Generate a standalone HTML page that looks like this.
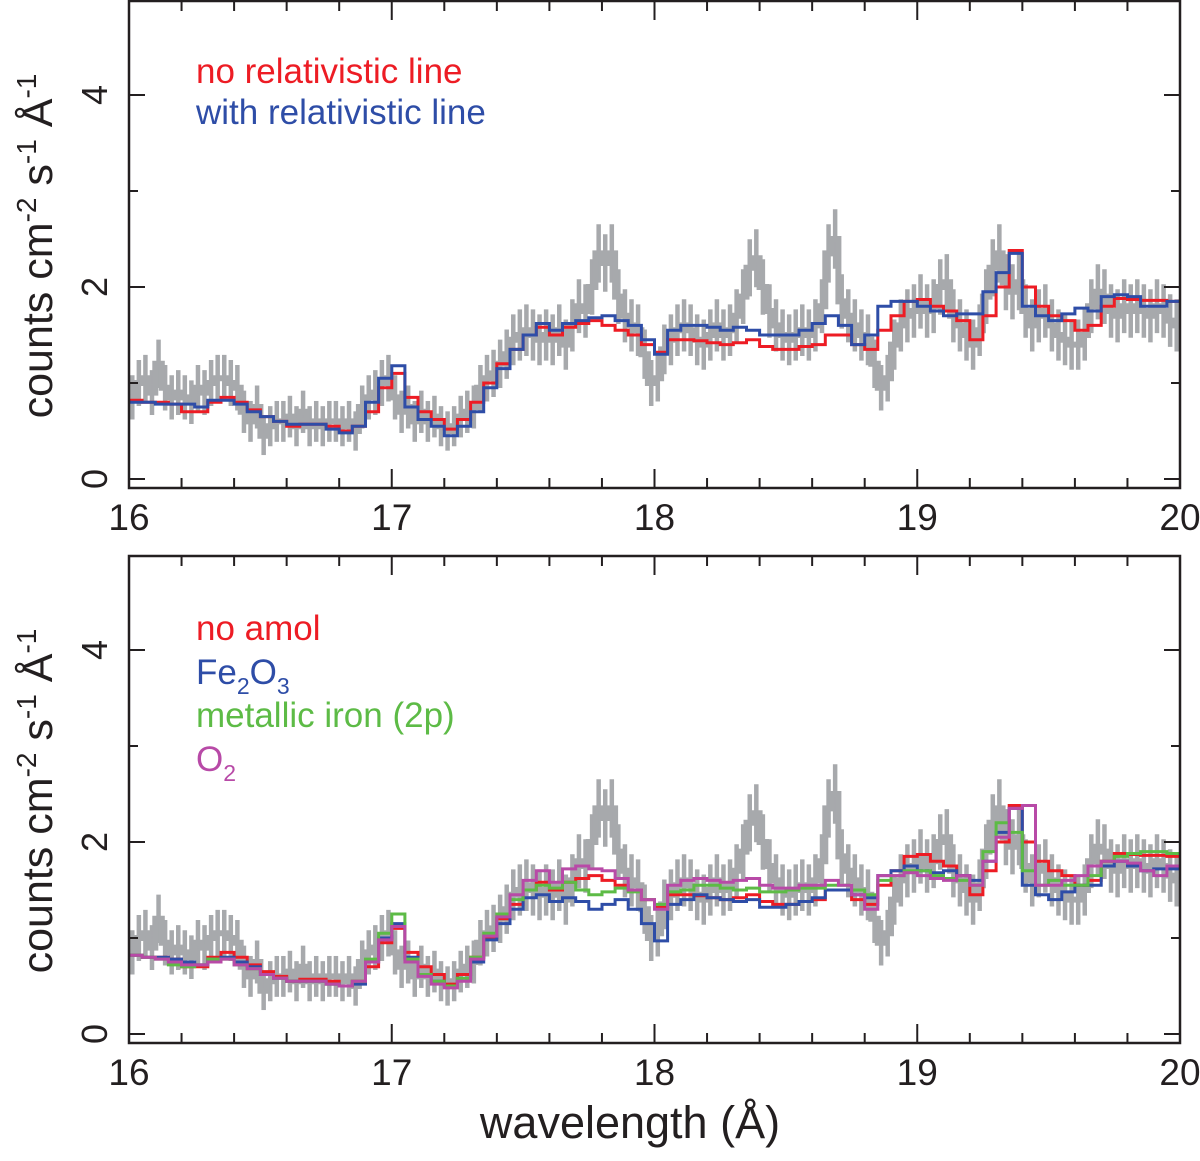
<!DOCTYPE html>
<html><head><meta charset="utf-8"><style>
body{margin:0;background:#fff;}
svg text{font-family:"Liberation Sans",Arial,sans-serif;}
</style></head><body>
<svg id="chart" width="1200" height="1156" viewBox="0 0 1200 1156" xmlns="http://www.w3.org/2000/svg"></svg>
<script>
// data: 0.05 Å model bins from 16.0 to 20.0
const modelStart = 16.0, modelStep = 0.05;
const noRel = [0.82,0.80,0.80,0.78,0.70,0.70,0.80,0.85,0.80,0.72,0.65,0.60,0.55,0.57,0.57,0.55,0.50,0.55,0.70,0.95,1.10,0.85,0.70,0.62,0.52,0.62,0.80,1.00,1.20,1.35,1.50,1.58,1.50,1.58,1.62,1.65,1.60,1.55,1.50,1.40,1.32,1.45,1.45,1.44,1.42,1.40,1.42,1.45,1.38,1.35,1.35,1.38,1.40,1.50,1.50,1.40,1.35,1.55,1.70,1.85,1.87,1.80,1.75,1.65,1.45,1.70,2.00,2.38,2.00,1.80,1.70,1.65,1.55,1.60,1.80,1.88,1.87,1.86,1.86,1.85];
const withRel = [0.80,0.80,0.78,0.78,0.78,0.75,0.82,0.82,0.78,0.70,0.65,0.60,0.57,0.57,0.57,0.52,0.48,0.55,0.80,1.05,1.18,0.75,0.62,0.55,0.45,0.55,0.70,0.95,1.15,1.35,1.50,1.62,1.55,1.62,1.65,1.68,1.70,1.65,1.60,1.45,1.30,1.55,1.60,1.60,1.58,1.55,1.58,1.55,1.50,1.50,1.50,1.55,1.62,1.70,1.60,1.40,1.50,1.80,1.85,1.85,1.80,1.75,1.70,1.72,1.72,1.95,2.15,2.35,1.80,1.70,1.65,1.72,1.78,1.75,1.90,1.92,1.90,1.80,1.80,1.85];
const fe2o3 = [0.82,0.80,0.80,0.78,0.75,0.72,0.78,0.80,0.75,0.70,0.62,0.58,0.55,0.55,0.55,0.52,0.50,0.52,0.75,1.00,1.15,0.80,0.62,0.55,0.50,0.58,0.75,0.98,1.15,1.30,1.42,1.45,1.38,1.42,1.38,1.30,1.35,1.40,1.30,1.15,0.97,1.35,1.40,1.45,1.42,1.40,1.38,1.40,1.32,1.32,1.35,1.38,1.42,1.50,1.50,1.45,1.42,1.65,1.70,1.75,1.70,1.68,1.70,1.65,1.60,1.80,2.10,2.35,1.55,1.45,1.40,1.48,1.55,1.55,1.75,1.80,1.75,1.70,1.72,1.72];
const metalFe = [0.82,0.80,0.78,0.72,0.70,0.72,0.78,0.78,0.72,0.68,0.62,0.58,0.55,0.55,0.55,0.52,0.50,0.55,0.78,1.05,1.25,0.78,0.62,0.55,0.50,0.58,0.80,1.05,1.25,1.40,1.50,1.55,1.52,1.58,1.50,1.45,1.48,1.52,1.48,1.40,1.35,1.48,1.50,1.55,1.55,1.52,1.50,1.52,1.48,1.48,1.50,1.52,1.52,1.55,1.55,1.50,1.45,1.60,1.65,1.70,1.70,1.65,1.62,1.60,1.55,1.90,2.20,2.10,1.70,1.55,1.60,1.55,1.55,1.65,1.80,1.85,1.88,1.90,1.90,1.88];
const o2 = [0.82,0.80,0.78,0.75,0.72,0.72,0.75,0.78,0.72,0.68,0.62,0.58,0.55,0.55,0.55,0.52,0.50,0.55,0.75,0.98,1.12,0.75,0.60,0.52,0.48,0.55,0.78,1.02,1.22,1.45,1.60,1.70,1.58,1.72,1.75,1.72,1.70,1.62,1.50,1.40,1.30,1.55,1.60,1.62,1.60,1.58,1.60,1.62,1.55,1.52,1.52,1.55,1.55,1.60,1.55,1.45,1.30,1.65,1.65,1.68,1.65,1.62,1.60,1.65,1.55,1.80,2.05,2.35,2.38,1.55,1.55,1.60,1.65,1.75,1.80,1.80,1.78,1.70,1.65,1.75];
// observed data: 0.025 Å bins
const dataStart = 16.0, dataStep = 0.025;
const observed = [0.85,1.0,1.05,0.9,1.2,0.95,0.85,0.9, 0.85,0.8,0.95,0.9,1.0,1.05,1.05,1.0, 0.95,0.7,0.6,0.75,0.45,0.55,0.6,0.6, 0.65,0.55,0.7,0.55,0.6,0.55,0.6,0.6, 0.55,0.6,0.5,0.75,0.85,0.9,1.0,1.05, 0.85,0.7,0.75,0.6,0.7,0.6,0.65,0.55, 0.5,0.55,0.65,0.7,0.75,0.95,1.05,1.1, 1.2,1.3,1.45,1.5,1.55,1.5,1.45,1.5, 1.45,1.55,1.4,1.6,1.8,1.75,2.0,2.35, 2.25,2.35,1.9,1.7,1.6,1.55,1.3,1.0, 1.05,1.35,1.45,1.55,1.6,1.55,1.45,1.4, 1.5,1.6,1.5,1.55,1.7,1.9,2.2,2.3, 2.0,1.75,1.6,1.5,1.45,1.5,1.55,1.5, 1.6,1.8,2.35,2.5,1.85,1.7,1.6,1.5, 1.45,1.2,0.95,1.05,1.4,1.6,1.7,1.75, 1.85,1.75,1.8,2.0,2.05,1.7,1.6,1.5, 1.4,1.55,1.9,2.2,2.35,2.05,1.95,2.05, 1.75,1.6,1.7,1.75,1.6,1.5,1.45,1.4, 1.4,1.5,1.8,1.95,1.9,1.75,1.7,1.8, 1.75,1.8,1.75,1.7,1.8,1.75,1.65,1.6];
const xTickLabels = ["16","17","18","19","20"];
const yTickLabels = ["0","2","4"];

const NS = "http://www.w3.org/2000/svg";
const svg = document.getElementById("chart");
const X0 = 129, X1 = 1180;
function xs(v){ return X0 + (v-16)/4*(X1-X0); }
function mk(tag, attrs, parent){ const e=document.createElementNS(NS,tag); for(const k in attrs) e.setAttribute(k,attrs[k]); (parent||svg).appendChild(e); return e; }

function stepPath(vals, start, step, ys){
  let d = "";
  vals.forEach((v,i)=>{ const xa=xs(start+i*step), xb=xs(start+(i+1)*step), y=ys(v);
    d += (i===0?"M":"L")+xa.toFixed(1)+","+y.toFixed(1)+"L"+xb.toFixed(1)+","+y.toFixed(1); });
  return d;
}

function panel(top, bottom, y0px, seriesList, legend, name){
  const g = mk("g",{});
  
  
  const unit = 96;
  const ys = v => y0px - v*unit;
  const clipId = name+"-clip";
  const cp = mk("clipPath",{id:clipId},g);
  mk("rect",{x:X0,y:top,width:X1-X0,height:bottom-top},cp);
  const plot = mk("g",{"clip-path":"url(#"+clipId+")"},g);
  const eg = mk("g",{},plot);
  
  
  observed.forEach((v,i)=>{
    const x = xs(dataStart+(i+0.5)*dataStep), err = 0.12+0.12*Math.sqrt(v);
    const l = mk("line",{x1:x,x2:x,y1:ys(v-err),y2:ys(v+err),stroke:"#a7a9ac","stroke-width":4.5},eg);
    
    
  });
  const op = mk("path",{d:stepPath(observed,dataStart,dataStep,ys),fill:"none",stroke:"#a7a9ac","stroke-width":6},plot);
  
  
  seriesList.forEach(s=>{
    const p = mk("path",{d:stepPath(s.vals,modelStart,modelStep,ys),fill:"none",stroke:s.color,"stroke-width":3},plot);
    
    
  });
  const fr = mk("rect",{x:X0,y:top,width:X1-X0,height:bottom-top,fill:"none",stroke:"#231f20","stroke-width":2.5},g);
  
  
  for(let k=0;k<=20;k++){
    const v=16+k*0.2, x=xs(v), major=(k%5===0), len=major?19:10;
    mk("line",{x1:x,x2:x,y1:bottom,y2:bottom-len,stroke:"#231f20","stroke-width":2},g);
    mk("line",{x1:x,x2:x,y1:top,y2:top+len,stroke:"#231f20","stroke-width":2},g);
  }
  xTickLabels.forEach((t,i)=>{
    const tx = mk("text",{x:xs(Number(t)),y:bottom+42,"text-anchor":"middle","font-size":37,fill:"#231f20"},g);
    tx.textContent=t;
    
    
  });
  for(let v=0; v<=4; v++){
    const y=ys(v), len=(v%2===0)?16:9;
    mk("line",{x1:X0,x2:X0+len,y1:y,y2:y,stroke:"#231f20","stroke-width":2},g);
    mk("line",{x1:X1,x2:X1-len,y1:y,y2:y,stroke:"#231f20","stroke-width":2},g);
  }
  yTickLabels.forEach(t=>{
    const y=ys(Number(t));
    const tx = mk("text",{x:0,y:0,transform:"translate(107,"+y+") rotate(-90)","text-anchor":"middle","font-size":36,fill:"#231f20"},g);
    tx.textContent=t;
    
    
  });
  const yt = mk("text",{x:0,y:0,transform:"translate(52,"+(y0px-233)+") rotate(-90)","text-anchor":"middle","font-size":43,fill:"#231f20"},g);
  yt.innerHTML = 'counts cm<tspan dy="-16" font-size="28">-2</tspan><tspan dy="16"> s</tspan><tspan dy="-16" font-size="28">-1</tspan><tspan dy="16"> Å</tspan><tspan dy="-16" font-size="28">-1</tspan>';
  
  
  legend.forEach((L,i)=>{
    const tx = mk("text",{x:196,y:L.y,"font-size":35,fill:L.color},g);
    tx.innerHTML = L.html;
    
    
  });
}

panel(1, 488, 479,
  [{vals:noRel,color:"#ed1c24",name:"no-relativistic-line-series"},{vals:withRel,color:"#2e4da7",name:"with-relativistic-line-series"}],
  [{y:83,color:"#ed1c24",html:"no relativistic line"},{y:124,color:"#2e4da7",html:"with relativistic line"}], "top-panel");

panel(556, 1043, 1034,
  [{vals:noRel,color:"#ed1c24",name:"no-amol-series"},{vals:fe2o3,color:"#2e4da7",name:"fe2o3-series"},{vals:metalFe,color:"#5dbb46",name:"metallic-iron-series"},{vals:o2,color:"#b84aa7",name:"o2-series"}],
  [{y:640,color:"#ed1c24",html:"no amol"},
   {y:684,color:"#2e4da7",html:'Fe<tspan dy="10" font-size="23">2</tspan><tspan dy="-10">O</tspan><tspan dy="10" font-size="23">3</tspan>'},
   {y:727,color:"#5dbb46",html:"metallic iron (2p)"},
   {y:771,color:"#b84aa7",html:'O<tspan dy="10" font-size="23">2</tspan>'}], "bottom-panel");

const xt = mk("text",{x:630,y:1138,"text-anchor":"middle","font-size":45,fill:"#231f20"});
xt.textContent = "wavelength (Å)";


</script>
</body></html>
